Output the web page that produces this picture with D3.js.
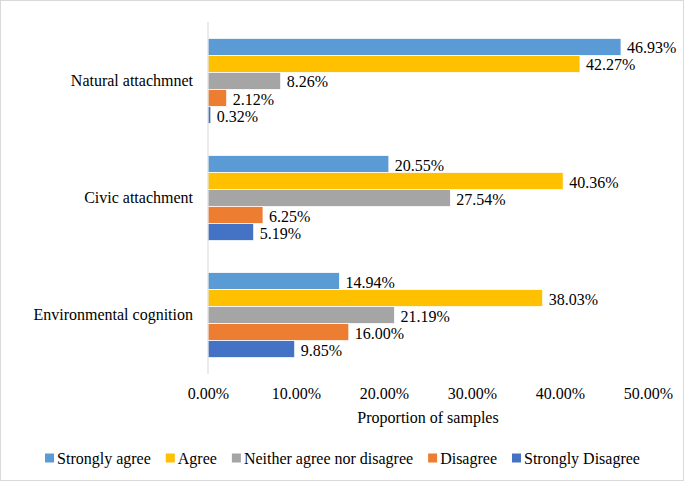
<!DOCTYPE html>
<html><head><meta charset="utf-8">
<script src="https://cdn.jsdelivr.net/npm/d3@7"></script>
<style>body{margin:0;background:#fff}svg{display:block}text{font-family:"Liberation Serif","Times New Roman",serif;fill:#000}</style>
</head><body>
<svg id="chart" width="685" height="482"></svg>
<script>
const categories = ["Natural attachmnet", "Civic attachment", "Environmental cognition"];
const seriesNames = ["Strongly agree", "Agree", "Neither agree nor disagree", "Disagree", "Strongly Disagree"];
const seriesColors = ["#5B9BD5", "#FFC000", "#A5A5A5", "#ED7D31", "#4472C4"];
const stronglyAgree = [46.93, 20.55, 14.94];
const agree = [42.27, 40.36, 38.03];
const neither = [8.26, 27.54, 21.19];
const disagree = [2.12, 6.25, 16.00];
const stronglyDisagree = [0.32, 5.19, 9.85];
const xTicks = [0, 10, 20, 30, 40, 50];
const xTitle = "Proportion of samples";

const seriesValues = [stronglyAgree, agree, neither, disagree, stronglyDisagree];
const svg = d3.select("#chart");
const W = 685, H = 482;
svg.append("rect").attr("x", 0.5).attr("y", 0.5).attr("width", W - 2).attr("height", H - 2)
  .attr("fill", "#fff").attr("stroke", "#d9d9d9").attr("stroke-width", 1);

const m = {left: 208, right: 648, top: 22, bottom: 374};
const x = d3.scaleLinear().domain([0, 50]).range([m.left, m.right]);
const y0 = d3.scaleBand().domain(categories).range([m.top, m.bottom]).paddingInner(0.274).paddingOuter(0.14);
const y1 = d3.scaleBand().domain(seriesNames).range([0, y0.bandwidth()]);

const fmt = v => v.toFixed(2) + "%";

const groups = svg.selectAll("g.cat").data(categories).join("g")
  .attr("class", "cat").attr("transform", d => `translate(0,${y0(d)})`);

groups.each(function(cat, ci) {
  const g = d3.select(this);
  const rows = seriesNames.map((s, si) => ({s, si, v: seriesValues[si][ci]}));
  g.selectAll("rect").data(rows).join("rect")
    .attr("x", x(0)).attr("y", d => y1(d.s))
    .attr("width", d => x(d.v) - x(0)).attr("height", y1.bandwidth())
    .attr("fill", d => seriesColors[d.si]).attr("stroke", "#fff").attr("stroke-width", 0.75);
  g.selectAll("text.lbl").data(rows).join("text").attr("class", "lbl")
    .attr("x", d => x(d.v) + 6).attr("y", d => y1(d.s) + y1.bandwidth() / 2 + 1)
    .attr("dy", "0.35em").attr("font-size", 16).text(d => fmt(d.v));
});

// category labels
svg.selectAll("text.cat").data(categories).join("text").attr("class", "cat")
  .attr("x", m.left - 15).attr("y", d => y0(d) + y0.bandwidth() / 2 - 1)
  .attr("dy", "0.35em").attr("text-anchor", "end").attr("font-size", 16).text(d => d);

// axis line
svg.append("line").attr("x1", m.left).attr("x2", m.left).attr("y1", m.top).attr("y2", m.bottom)
  .attr("stroke", "#d9d9d9").attr("stroke-width", 1);

// x axis
const xAxis = d3.axisBottom(x).tickValues(xTicks).tickSize(0).tickPadding(0).tickFormat(d => d.toFixed(2) + "%");
const ax = svg.append("g").attr("transform", `translate(0,388)`).call(xAxis);
ax.attr("font-family", null);
ax.select(".domain").remove();
ax.selectAll("text").attr("font-size", 16).attr("fill", "#000");

svg.append("text").attr("x", (m.left + m.right) / 2).attr("y", 417).attr("dy", "0.35em")
  .attr("text-anchor", "middle").attr("font-size", 16).text(xTitle);

// legend
const leg = svg.append("g");
let cx = 0;
const gap = 15;
seriesNames.forEach((s, i) => {
  const it = leg.append("g").attr("transform", `translate(${cx},0)`);
  it.append("rect").attr("x", 0).attr("y", -4.5).attr("width", 9).attr("height", 9).attr("fill", seriesColors[i]);
  const t = it.append("text").attr("x", 12).attr("y", 0).attr("dy", "0.35em").attr("font-size", 16).text(s);
  cx += 12 + t.node().getComputedTextLength() + gap;
});
const total = cx - gap;
leg.attr("transform", `translate(${(W - total) / 2},458)`);
</script>
</body></html>
